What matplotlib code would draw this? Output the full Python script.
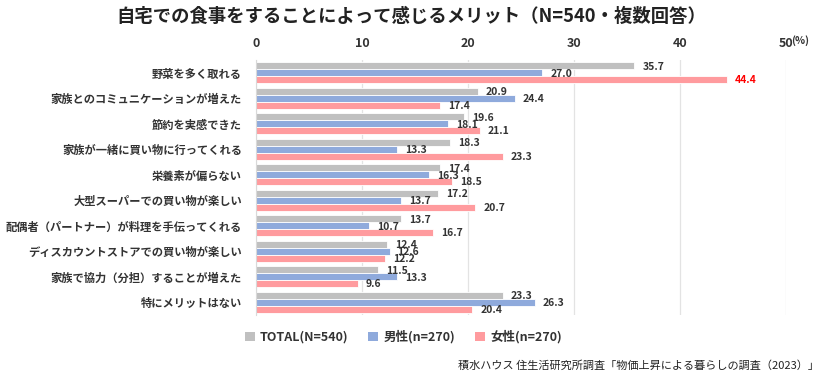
import numpy as np
import matplotlib.pyplot as plt
from matplotlib.patches import Patch

plt.rcParams['font.family'] = ['Noto Sans CJK JP', 'DejaVu Sans']

# Data
categories = ['野菜を多く取れる', '家族とのコミュニケーションが増えた', '節約を実感できた',
              '家族が一緒に買い物に行ってくれる', '栄養素が偏らない', '大型スーパーでの買い物が楽しい',
              '配偶者（パートナー）が料理を手伝ってくれる', 'ディスカウントストアでの買い物が楽しい',
              '家族で協力（分担）することが増えた', '特にメリットはない']
total = [35.7, 20.9, 19.6, 18.3, 17.4, 17.2, 13.7, 12.4, 11.5, 23.3]
male = [27.0, 24.4, 18.1, 13.3, 16.3, 13.7, 10.7, 12.6, 13.3, 26.3]
female = [44.4, 17.4, 21.1, 23.3, 18.5, 20.7, 16.7, 12.2, 9.6, 20.4]
series_names = ['TOTAL(N=540)', '男性(n=270)', '女性(n=270)']
colors = ['#C0C0C0', '#8FAADC', '#FF9B9E']

fig = plt.figure(figsize=(8.4, 3.81), dpi=100)
ax = fig.add_axes([0.3048, 0.1732, 0.6309, 0.6693])

y = np.arange(len(categories))
h = 0.27
for i, (vals, c) in enumerate(zip([total, male, female], colors)):
    pos = y + (i - 1) * h
    ax.barh(pos, vals, height=h, color=c, edgecolor='white', linewidth=0.6, zorder=2)
    for p, v in zip(pos, vals):
        col = '#FF0000' if (i == 2 and v == max(female)) else '#333333'
        ax.text(v + 0.75, p + 0.03, f'{v:.1f}', va='center', ha='left',
                fontsize=7.5, fontweight='bold', color=col, zorder=3)

ax.set_xlim(0, 50)
ax.set_ylim(len(categories) - 0.5, -0.5)
ax.set_xticks([0, 10, 20, 30, 40, 50])
ax.xaxis.tick_top()
ax.tick_params(axis='x', length=0, labelsize=9, labelcolor='#333333', pad=7)
for lb in ax.get_xticklabels():
    lb.set_fontweight('bold')
ax.set_yticks(y)
ax.set_yticklabels(categories, fontsize=8.1, fontweight='bold', color='#333333')
ax.tick_params(axis='y', length=0, pad=10)
ax.grid(axis='x', color='#E3E3E3', linewidth=0.9, zorder=0)
for s in ['top', 'right', 'bottom']:
    ax.spines[s].set_visible(False)
ax.spines['left'].set_color('#D9D9D9')

fig.text(0.953, 0.893, '(%)', fontsize=7.5, fontweight='bold', color='#333333',
         ha='center', va='center')

fig.text(0.49, 0.958, '自宅での食事をすることによって感じるメリット（N=540・複数回答）',
         ha='center', va='center', fontsize=13.2, fontweight='bold', color='#222222')

handles = [Patch(facecolor=c, edgecolor='none') for c in colors]
fig.legend(handles, series_names, loc='center', bbox_to_anchor=(0.48, 0.115), ncol=3,
           frameon=False, prop={'size': 9, 'weight': 'bold'}, handlelength=0.8,
           handleheight=0.8, handletextpad=0.4, columnspacing=1.6, labelcolor='#333333')

fig.text(0.975, 0.04, '積水ハウス 住生活研究所調査「物価上昇による暮らしの調査（2023）」',
         ha='right', va='center', fontsize=8, color='#222222')

plt.savefig('out.png', dpi=100)
